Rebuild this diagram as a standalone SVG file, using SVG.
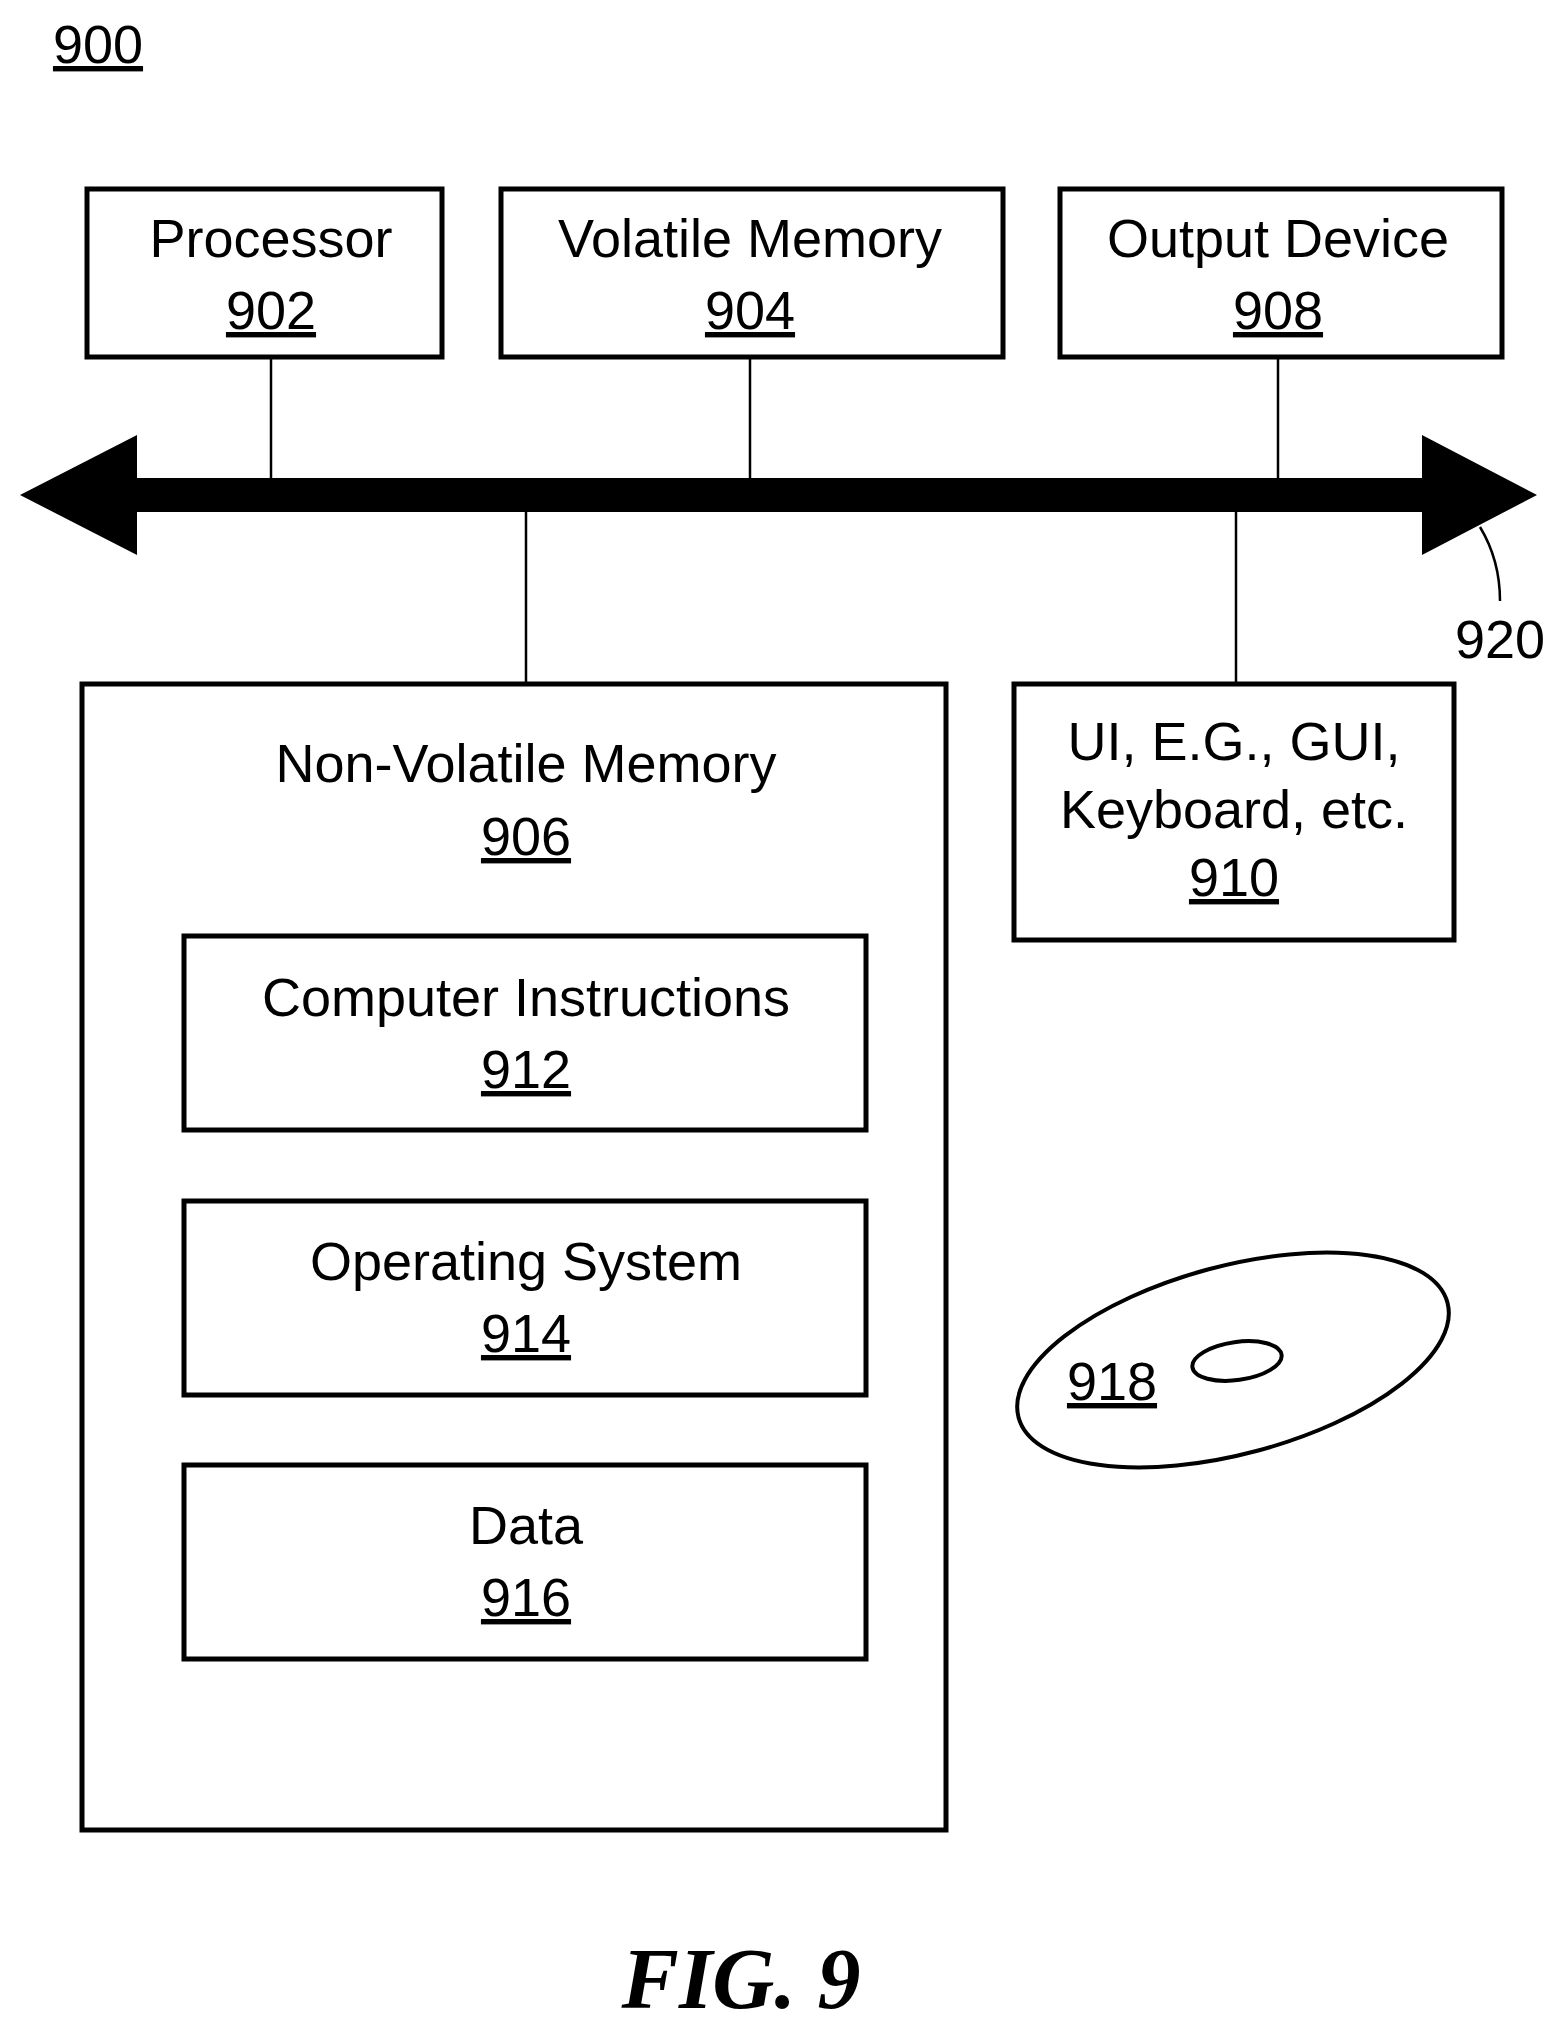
<svg xmlns="http://www.w3.org/2000/svg" width="1567" height="2035" viewBox="0 0 1567 2035">
<style>
text{font-family:"Liberation Sans",Arial,sans-serif;font-size:54px;fill:#000;text-anchor:middle}
.n{text-decoration:underline}
.box{fill:#fff;stroke:#000;stroke-width:5}
.ln{stroke:#000;stroke-width:2.5;fill:none}
</style>
<rect width="1567" height="2035" fill="#fff"/>
<text x="98" y="63" class="n">900</text>
<g id="connectors">
<line class="ln" x1="271" y1="357" x2="271" y2="480"/>
<line class="ln" x1="750" y1="357" x2="750" y2="480"/>
<line class="ln" x1="1278" y1="357" x2="1278" y2="480"/>
<line class="ln" x1="526" y1="510" x2="526" y2="684"/>
<line class="ln" x1="1236" y1="510" x2="1236" y2="684"/>
</g>
<g id="bus920">
<polygon points="20,495 137,435 137,478 1422,478 1422,435 1537,495 1422,555 1422,512 137,512 137,555" fill="#000"/>
<path class="ln" d="M1480,527 Q1500,560 1500,601"/>
<text x="1500" y="658">920</text>
</g>
<g id="n902"><rect class="box" x="87" y="189" width="355" height="168"/><text x="271" y="257">Processor</text><text x="271" y="329" class="n">902</text></g>
<g id="n904"><rect class="box" x="501" y="189" width="502" height="168"/><text x="750" y="257">Volatile Memory</text><text x="750" y="329" class="n">904</text></g>
<g id="n908"><rect class="box" x="1060" y="189" width="442" height="168"/><text x="1278" y="257">Output Device</text><text x="1278" y="329" class="n">908</text></g>
<g id="n906"><rect class="box" x="82" y="684" width="864" height="1146"/><text x="526" y="782">Non-Volatile Memory</text><text x="526" y="855" class="n">906</text></g>
<g id="n912"><rect class="box" x="184" y="936" width="682" height="194"/><text x="526" y="1016">Computer Instructions</text><text x="526" y="1088" class="n">912</text></g>
<g id="n914"><rect class="box" x="184" y="1201" width="682" height="194"/><text x="526" y="1280">Operating System</text><text x="526" y="1352" class="n">914</text></g>
<g id="n916"><rect class="box" x="184" y="1465" width="682" height="194"/><text x="526" y="1544">Data</text><text x="526" y="1616" class="n">916</text></g>
<g id="n910"><rect class="box" x="1014" y="684" width="440" height="256"/><text x="1234" y="760">UI, E.G., GUI,</text><text x="1234" y="828">Keyboard, etc.</text><text x="1234" y="896" class="n">910</text></g>
<g id="n918">
<ellipse cx="1233" cy="1360" rx="222" ry="94" transform="rotate(-15 1233 1360)" fill="none" stroke="#000" stroke-width="4"/>
<ellipse cx="1237" cy="1361" rx="45" ry="19" transform="rotate(-8 1237 1361)" fill="none" stroke="#000" stroke-width="4"/>
<text x="1112" y="1400" class="n">918</text>
</g>
<text x="741" y="2008" style="font-family:'Liberation Serif',serif;font-weight:bold;font-style:italic;font-size:86px">FIG. 9</text>
</svg>
